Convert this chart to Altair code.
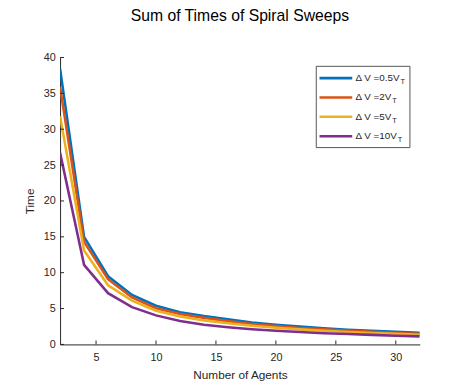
import altair as alt
import pandas as pd

# ---- data ----
agents = [2, 4, 6, 8, 10, 12, 14, 16, 18, 20, 22, 24, 26, 28, 30, 32]
t_dv05 = [38.4, 15.0, 9.5, 6.9, 5.4, 4.5, 3.95, 3.5, 3.05, 2.75, 2.5, 2.25, 2.05, 1.9, 1.75, 1.63]
t_dv2 = [35.9, 14.3, 9.1, 6.55, 5.05, 4.25, 3.7, 3.25, 2.85, 2.55, 2.3, 2.1, 1.9, 1.75, 1.6, 1.5]
t_dv5 = [31.8, 13.1, 8.25, 6.1, 4.7, 3.9, 3.35, 2.95, 2.6, 2.32, 2.1, 1.9, 1.74, 1.6, 1.47, 1.36]
t_dv10 = [26.7, 11.1, 7.15, 5.2, 4.05, 3.25, 2.75, 2.4, 2.12, 1.9, 1.72, 1.57, 1.45, 1.33, 1.22, 1.12]
series_labels = ["Δ V =0.5V", "Δ V =2V", "Δ V =5V", "Δ V =10V"]
subscript = "T"
colors = ["#0072BD", "#D95319", "#EDB120", "#7E2F8E"]
x_ticks = [5, 10, 15, 20, 25, 30]
y_ticks = [0, 5, 10, 15, 20, 25, 30, 35, 40]

rows = []
for order, (lab, vals) in enumerate(zip(series_labels, [t_dv05, t_dv2, t_dv5, t_dv10])):
    for a, v in zip(agents, vals):
        rows.append({"agents": a, "time": v, "series": lab, "ord": order})
df = pd.DataFrame(rows)

W, H = 366, 292
FONT = "Liberation Sans"
AX = "#262626"

xscale = alt.Scale(domain=[2, 32], nice=False, zero=False)
yscale = alt.Scale(domain=[0, 40], nice=False, zero=False)

x_axis = alt.Axis(
    values=x_ticks, title="Number of Agents", ticks=False, tickSize=0,
    labelPadding=7, domainColor=AX, labelColor=AX, labelFontSize=11,
    labelFont=FONT, titleFont=FONT, titleFontSize=12, titleFontWeight="normal",
    titleColor=AX, titleBaseline="alphabetic", titleY=34.5, grid=False)
y_axis = alt.Axis(
    values=y_ticks, title="Time", ticks=False, tickSize=0,
    labelPadding=5, domainColor=AX, labelColor=AX, labelFontSize=11,
    labelFont=FONT, titleFont=FONT, titleFontSize=12, titleFontWeight="normal",
    titleColor=AX, titleAngle=270, titleAlign="center", titleBaseline="alphabetic",
    titleX=-27.5, titleY=H / 2, grid=False)

lines = alt.Chart(df).mark_line(strokeWidth=2.6, clip=True).encode(
    x=alt.X("agents:Q", scale=xscale, axis=x_axis),
    y=alt.Y("time:Q", scale=yscale, axis=y_axis),
    color=alt.Color("series:N", scale=alt.Scale(domain=series_labels, range=colors), legend=None),
    detail="ord:O",
)

# inward ticks
xt = alt.Chart(pd.DataFrame({"agents": x_ticks})).mark_rule(color=AX, strokeWidth=1).encode(
    x=alt.X("agents:Q", scale=xscale, axis=x_axis), y=alt.value(H), y2=alt.value(H - 4))
yt = alt.Chart(pd.DataFrame({"time": y_ticks})).mark_rule(color=AX, strokeWidth=1).encode(
    y=alt.Y("time:Q", scale=yscale, axis=y_axis), x=alt.value(0), x2=alt.value(4))

# custom legend (for subscript T)
char_w = {"Δ": 668, " ": 278, "V": 667, "=": 584, ".": 278}
def text_width(s, size):
    return sum(char_w.get(c, 556) for c in s) / 1000 * size

one = pd.DataFrame({"a": [0]})
legend_layers = [
    alt.Chart(one).mark_rect(fill="white", stroke="#555555", strokeWidth=1).encode(
        x=alt.value(260.7), x2=alt.value(356), y=alt.value(9), y2=alt.value(91.7))
]
LX0, LX1, TX = 264, 297.3, 300.7
FS = 10
for i, (lab, col) in enumerate(zip(series_labels, colors)):
    ry = 21 + i * 19.7
    legend_layers.append(alt.Chart(one).mark_rule(color=col, strokeWidth=2.6).encode(
        x=alt.value(LX0), x2=alt.value(LX1), y=alt.value(ry)))
    legend_layers.append(alt.Chart(one).mark_text(
        text=lab, align="left", baseline="middle", font=FONT, fontSize=FS, color=AX).encode(
        x=alt.value(TX), y=alt.value(ry)))
    legend_layers.append(alt.Chart(one).mark_text(
        text=subscript, align="left", baseline="middle", font=FONT, fontSize=7.5, color=AX).encode(
        x=alt.value(TX + text_width(lab, FS) + 0.3), y=alt.value(ry + 4)))

chart = alt.layer(lines, xt, yt, *legend_layers).properties(
    width=W, height=H,
    title=alt.TitleParams("Sum of Times of Spiral Sweeps", font=FONT, fontSize=16,
                          fontWeight="normal", color="black", anchor="middle",
                          frame="group", baseline="alphabetic", offset=15),
    autosize=alt.AutoSizeParams(type="none"),
    padding={"left": 53, "top": 47, "right": 44, "bottom": 41},
    background="white",
).configure_view(stroke=None)

chart.save("out.html", embed_options={"renderer": "svg", "actions": False})
